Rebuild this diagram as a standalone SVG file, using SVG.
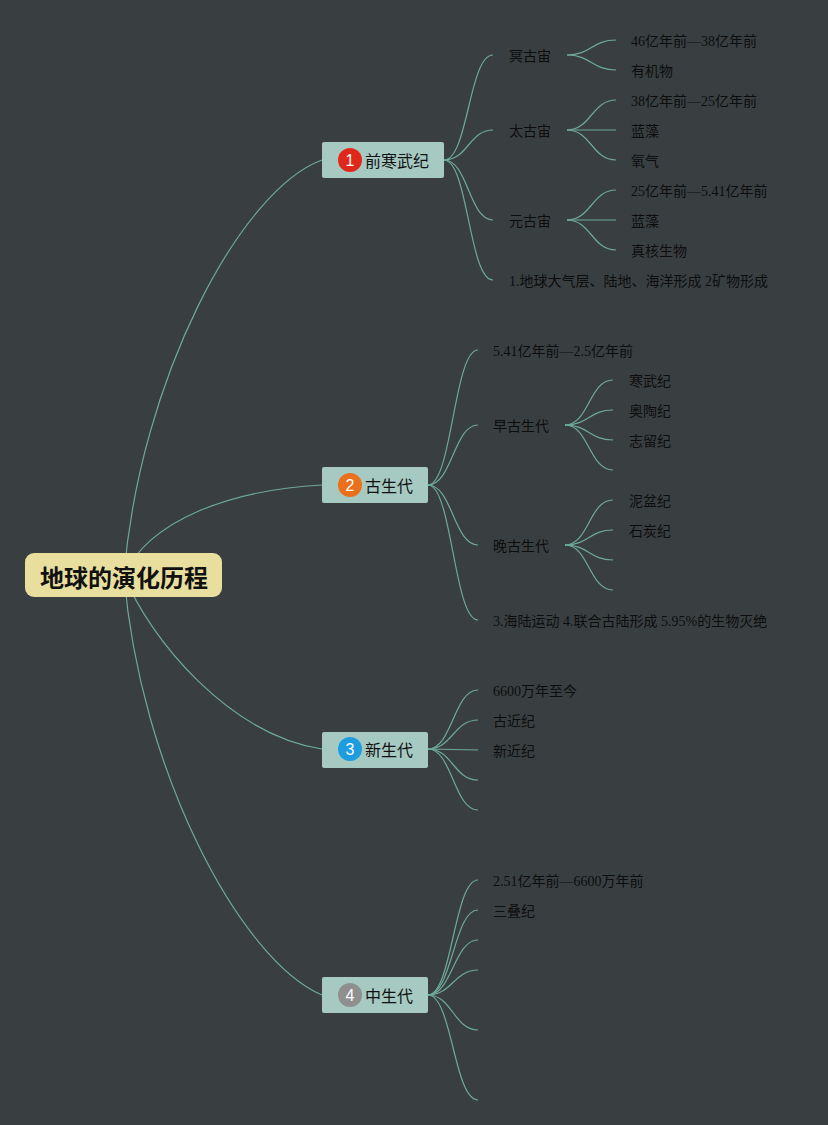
<svg xmlns="http://www.w3.org/2000/svg" width="828" height="1125" viewBox="0 0 828 1125">
<style>
.bg{fill:#393f41}
.conn path{fill:none;stroke:#6ea99a;stroke-width:1.2}
.topic{fill:#a6c9c1}
.root{fill:#e8df9e}
.t{font-family:"Liberation Serif","Noto Sans CJK SC",serif;font-size:14px;fill:#0d0d0d;dominant-baseline:central}
.nt{font-family:"Noto Sans CJK SC","Liberation Sans",sans-serif;font-size:16px;fill:#111;dominant-baseline:central}
.rt{font-family:"Noto Sans CJK SC","Liberation Sans",sans-serif;font-size:24px;font-weight:bold;fill:#111;dominant-baseline:central;text-anchor:middle}
.bn{font-family:"Liberation Sans","Noto Sans",sans-serif;font-size:16px;fill:#fff;dominant-baseline:central;text-anchor:middle}
</style>
<rect class="bg" x="0" y="0" width="828" height="1125"/>
<g id="connectors" class="conn">
<path d="M124 575 C140 380 240 190 322 160"/>
<path d="M124 575 C150 520 230 490 322 485"/>
<path d="M124 575 C150 640 230 735 322 749"/>
<path d="M124 575 C140 770 240 960 322 995"/>
<path d="M444 160 C468 160 469 55 493 55"/>
<path d="M444 160 C468 160 469 130 493 130"/>
<path d="M444 160 C468 160 469 220 493 220"/>
<path d="M444 160 C468 160 469 280 493 280"/>
<path d="M567 55 C591 55 592 40 616 40"/>
<path d="M567 55 C591 55 592 70 616 70"/>
<path d="M567 130 C591 130 592 100 616 100"/>
<path d="M567 130 L616 130"/>
<path d="M567 130 C591 130 592 160 616 160"/>
<path d="M567 220 C591 220 592 190 616 190"/>
<path d="M567 220 L616 220"/>
<path d="M567 220 C591 220 592 250 616 250"/>
<path d="M428 485 C452 485 454 350 478 350"/>
<path d="M428 485 C452 485 454 425 478 425"/>
<path d="M428 485 C452 485 454 545 478 545"/>
<path d="M428 485 C452 485 454 620 478 620"/>
<path d="M565 425 C589 425 589 380 613 380"/>
<path d="M565 425 C589 425 589 410 613 410"/>
<path d="M565 425 C589 425 589 440 613 440"/>
<path d="M565 425 C589 425 589 470 613 470"/>
<path d="M565 545 C589 545 589 500 613 500"/>
<path d="M565 545 C589 545 589 530 613 530"/>
<path d="M565 545 C589 545 589 560 613 560"/>
<path d="M565 545 C589 545 589 590 613 590"/>
<path d="M428 749 C452 749 454 690 478 690"/>
<path d="M428 749 C452 749 454 720 478 720"/>
<path d="M428 749 L478 750"/>
<path d="M428 749 C452 749 454 780 478 780"/>
<path d="M428 749 C452 749 454 810 478 810"/>
<path d="M428 995 C452 995 454 880 478 880"/>
<path d="M428 995 C452 995 454 910 478 910"/>
<path d="M428 995 C452 995 454 940 478 940"/>
<path d="M428 995 C452 995 454 970 478 970"/>
<path d="M428 995 C452 995 454 1030 478 1030"/>
<path d="M428 995 C452 995 454 1100 478 1100"/>
</g>
<g id="root">
<rect class="root" x="25" y="553" width="197" height="44" rx="9"/>
<text class="rt" x="124" y="576">地球的演化历程</text>
</g>
<g id="node1">
<rect class="topic" x="322" y="142" width="122" height="36" rx="2"/>
<circle cx="350" cy="160" r="12" fill="#e0281a"/>
<text class="bn" x="350" y="160">1</text>
<text class="nt" x="365" y="160">前寒武纪</text>
</g>
<g id="node2">
<rect class="topic" x="322" y="467" width="106" height="36" rx="2"/>
<circle cx="350" cy="485" r="12" fill="#ea701c"/>
<text class="bn" x="350" y="485">2</text>
<text class="nt" x="365" y="485">古生代</text>
</g>
<g id="node3">
<rect class="topic" x="322" y="732" width="106" height="36" rx="2"/>
<circle cx="350" cy="749" r="12" fill="#1d9de0"/>
<text class="bn" x="350" y="749">3</text>
<text class="nt" x="365" y="749">新生代</text>
</g>
<g id="node4">
<rect class="topic" x="322" y="977" width="106" height="36" rx="2"/>
<circle cx="350" cy="995" r="12" fill="#8f8f8f"/>
<text class="bn" x="350" y="995" fill="#ddd">4</text>
<text class="nt" x="365" y="995">中生代</text>
</g>
<g id="n1-children">
<text class="t" x="509" y="56">冥古宙</text>
<text class="t" x="509" y="131">太古宙</text>
<text class="t" x="509" y="221">元古宙</text>
<text class="t" x="509" y="281">1.地球大气层、陆地、海洋形成 2矿物形成</text>
<text class="t" x="631" y="41">46亿年前—38亿年前</text>
<text class="t" x="631" y="71">有机物</text>
<text class="t" x="631" y="101">38亿年前—25亿年前</text>
<text class="t" x="631" y="131">蓝藻</text>
<text class="t" x="631" y="161">氧气</text>
<text class="t" x="631" y="191">25亿年前—5.41亿年前</text>
<text class="t" x="631" y="221">蓝藻</text>
<text class="t" x="631" y="251">真核生物</text>
</g>
<g id="n2-children">
<text class="t" x="493" y="351">5.41亿年前—2.5亿年前</text>
<text class="t" x="493" y="426">早古生代</text>
<text class="t" x="493" y="546">晚古生代</text>
<text class="t" x="493" y="621">3.海陆运动 4.联合古陆形成 5.95%的生物灭绝</text>
<text class="t" x="629" y="381">寒武纪</text>
<text class="t" x="629" y="411">奥陶纪</text>
<text class="t" x="629" y="441">志留纪</text>
<text class="t" x="629" y="501">泥盆纪</text>
<text class="t" x="629" y="531">石炭纪</text>
</g>
<g id="n3-children">
<text class="t" x="493" y="691">6600万年至今</text>
<text class="t" x="493" y="721">古近纪</text>
<text class="t" x="493" y="751">新近纪</text>
</g>
<g id="n4-children">
<text class="t" x="493" y="881">2.51亿年前—6600万年前</text>
<text class="t" x="493" y="911">三叠纪</text>
</g>
</svg>
